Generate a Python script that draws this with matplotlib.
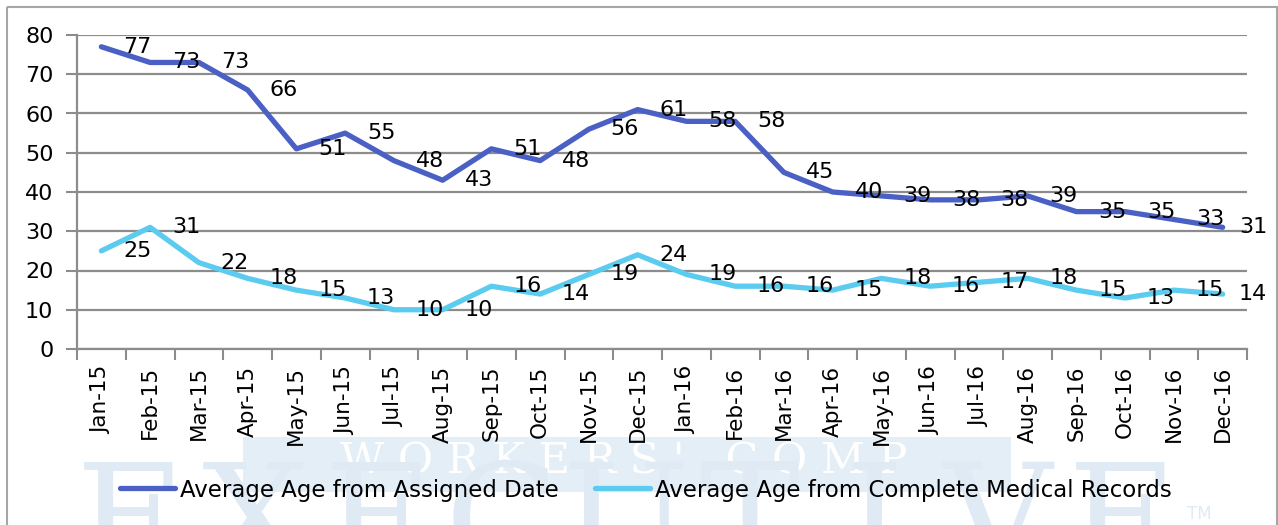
import matplotlib
matplotlib.use("Agg")
import matplotlib.pyplot as plt
from matplotlib.patches import Rectangle

months = ["Jan-15", "Feb-15", "Mar-15", "Apr-15", "May-15", "Jun-15", "Jul-15", "Aug-15",
          "Sep-15", "Oct-15", "Nov-15", "Dec-15", "Jan-16", "Feb-16", "Mar-16", "Apr-16",
          "May-16", "Jun-16", "Jul-16", "Aug-16", "Sep-16", "Oct-16", "Nov-16", "Dec-16"]
assigned = [77, 73, 73, 66, 51, 55, 48, 43, 51, 48, 56, 61, 58, 58, 45, 40, 39, 38, 38, 39, 35, 35, 33, 31]
medical = [25, 31, 22, 18, 15, 13, 10, 10, 16, 14, 19, 24, 19, 16, 16, 15, 18, 16, 17, 18, 15, 13, 15, 14]
series_names = ["Average Age from Assigned Date", "Average Age from Complete Medical Records"]
y_ticks = [0, 10, 20, 30, 40, 50, 60, 70, 80]

plt.rcParams['font.family'] = ['DejaVu Sans']
W, H = 1278, 525
fig = plt.figure(figsize=(W / 100, H / 100), dpi=100)

# background watermark
wm = fig.add_axes([0, 0, 1, 1], zorder=0)
wm.set_xlim(0, W)
wm.set_ylim(H, 0)
wm.axis('off')
wm.add_patch(Rectangle((243, 437), 768, 55, color='#e4eef6', lw=0))
wm.text(624, 461, "W O R K E R S '   C O M P", ha='center', va='center', fontsize=31,
        family='DejaVu Serif', color='white')
for k, ch in enumerate("EXECUTIVE"):
    wm.text(130 + k * 124, 457, ch, ha='center', va='top', fontsize=108,
            family='DejaVu Serif', color='#dfeaf4', clip_on=True)
wm.text(1199, 514, "TM", ha='center', va='center', fontsize=12, color='#dfeaf4')
wm.add_patch(Rectangle((7, 7), W - 8, H + 10, fill=False, edgecolor='#a6a6a6', lw=1.5))

ax = fig.add_axes([77 / W, (H - 349) / H, (1247 - 77) / W, (349 - 35) / H], zorder=2)
ax.patch.set_alpha(0)
x = list(range(len(months)))
l1, = ax.plot(x, assigned, color='#4a60c4', lw=3.8, solid_capstyle='round', solid_joinstyle='round',
              label=series_names[0], zorder=3)
l2, = ax.plot(x, medical, color='#5bcbf0', lw=3.8, solid_capstyle='round', solid_joinstyle='round',
              label=series_names[1], zorder=3)

ax.set_xlim(-0.5, len(months) - 0.5)
ax.set_ylim(0, 80)
ax.set_yticks(y_ticks)
ax.set_yticklabels([str(v) for v in y_ticks], fontsize=16)
ax.set_xticks(x)
ax.set_xticklabels(months, rotation=90, fontsize=15.5)
ax.set_xticks([i - 0.5 for i in range(len(months) + 1)], minor=True)
ax.tick_params(axis='x', which='major', length=0, pad=12)
ax.tick_params(axis='x', which='minor', length=8, width=1.5, color='#8c8c8c')
ax.tick_params(axis='y', length=8, width=1.5, color='#8c8c8c', pad=9)
ax.grid(axis='y', color='#8c8c8c', lw=1.6)
ax.set_axisbelow(True)
for s in ['top', 'right']:
    ax.spines[s].set_visible(False)
for s in ['left', 'bottom']:
    ax.spines[s].set_color('#8c8c8c')
    ax.spines[s].set_linewidth(1.6)

fig.canvas.draw()
for vals in (assigned, medical):
    for i, v in enumerate(vals):
        px, py = ax.transData.transform((i, v))
        cx = min(px + 36, 1253)
        fig.text(cx / W, py / H, str(v), ha='center', va='center', fontsize=16, zorder=4)

fig.legend(handles=[l1, l2], loc='center', bbox_to_anchor=(646 / W, (H - 490) / H), ncol=2,
           frameon=False, fontsize=16.5, handlelength=2.4, handletextpad=0.2, columnspacing=1.6)

fig.savefig("out.png", dpi=100)
